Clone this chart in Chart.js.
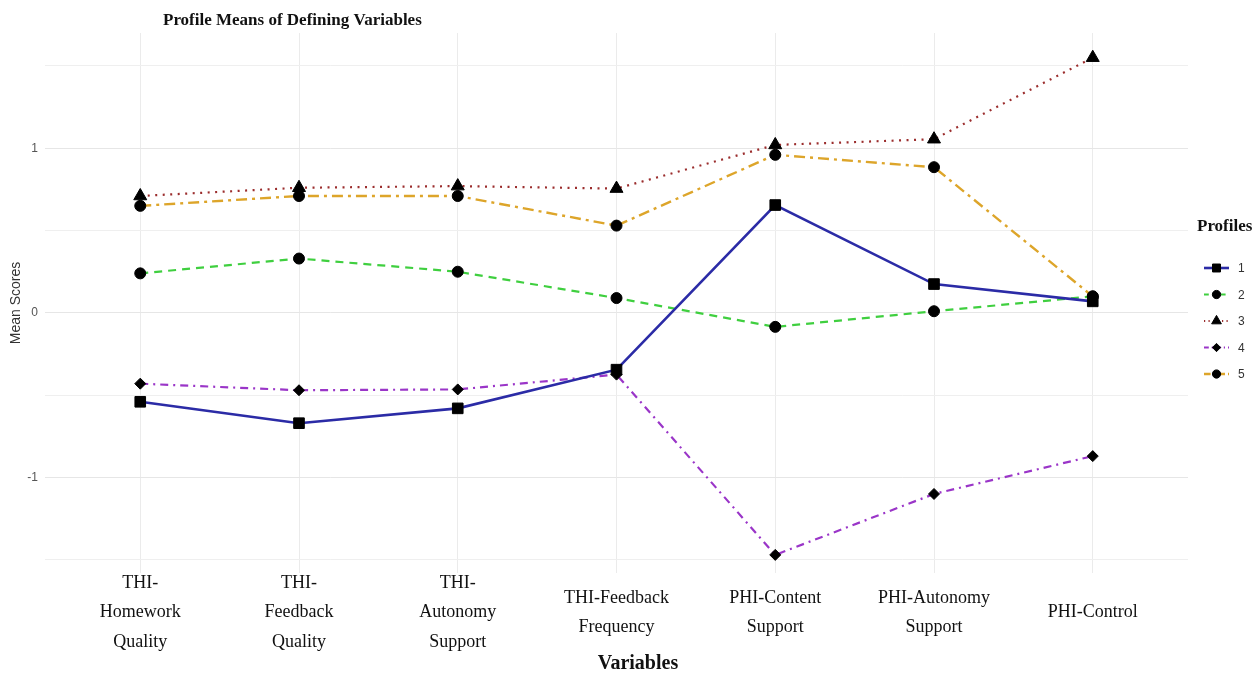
<!DOCTYPE html>
<html>
<head>
<meta charset="utf-8">
<script src="https://cdn.jsdelivr.net/npm/chart.js"></script>
<style>
  html, body { margin: 0; padding: 0; background: #ffffff; }
  #wrap { width: 1260px; height: 675px; }
</style>
</head>
<body>
<div id="wrap"><canvas id="c" width="1260" height="675"></canvas></div>
<script>
// ---- Data ----
const chartTitle = "Profile Means of Defining Variables";
const xAxisTitle = "Variables";
const yAxisTitle = "Mean Scores";
const legendTitle = "Profiles";
const categories = [
  ["THI-", "Homework", "Quality"],
  ["THI-", "Feedback", "Quality"],
  ["THI-", "Autonomy", "Support"],
  ["THI-Feedback", "Frequency"],
  ["PHI-Content", "Support"],
  ["PHI-Autonomy", "Support"],
  ["PHI-Control"]
];
const seriesNames = ["1", "2", "3", "4", "5"];
const profile1 = [-0.54, -0.67, -0.58, -0.345, 0.655, 0.175, 0.07];
const profile2 = [0.24, 0.33, 0.25, 0.09, -0.085, 0.01, 0.10];
const profile3 = [0.71, 0.76, 0.77, 0.755, 1.02, 1.055, 1.55];
const profile4 = [-0.43, -0.47, -0.465, -0.375, -1.47, -1.10, -0.87];
const profile5 = [0.65, 0.71, 0.71, 0.53, 0.96, 0.885, 0.10];
const yTickValues = [-1.5, -1, -0.5, 0, 0.5, 1, 1.5];
const yTickLabels = ["", "-1", "", "0", "", "1", ""];

// ---- Styles ----
const styles = [
  { color: "#2b2ba6", dash: [], width: 2.6, point: "rect", radius: 7.5 },
  { color: "#3fcf3f", dash: [8, 6], width: 2.2, point: "circle", radius: 5.5 },
  { color: "#9b2d2d", dash: [2, 5.5], width: 2.2, point: "triangle", radius: 7.5 },
  { color: "#9a35c8", dash: [8, 5, 2, 5], width: 2.2, point: "rectRot", radius: 5.5 },
  { color: "#dda52a", dash: [11, 5, 3, 5], width: 2.4, point: "circle", radius: 5.5 }
];
const allSeries = [profile1, profile2, profile3, profile4, profile5];

const datasets = allSeries.map((vals, i) => ({
  label: seriesNames[i],
  data: vals.map((v, j) => ({ x: j, y: v })),
  borderColor: styles[i].color,
  borderDash: styles[i].dash,
  borderWidth: styles[i].width,
  pointStyle: styles[i].point,
  pointRadius: styles[i].radius,
  pointHoverRadius: styles[i].radius,
  pointBackgroundColor: "#000000",
  pointBorderColor: "#000000",
  pointBorderWidth: 1,
  tension: 0,
  fill: false
}));

function drawMarker(ctx, style, r, x, y) {
  if (Chart.helpers && Chart.helpers.drawPoint) {
    Chart.helpers.drawPoint(ctx, { pointStyle: style, radius: r, borderWidth: 1, rotation: 0 }, x, y);
    return;
  }
  ctx.beginPath();
  ctx.arc(x, y, r, 0, Math.PI * 2);
  ctx.fill();
}

const decorPlugin = {
  id: "decor",
  afterDraw(chart) {
    const ctx = chart.ctx;
    ctx.save();
    // Title
    ctx.fillStyle = "#111111";
    ctx.font = "bold 17px 'Liberation Serif', 'Times New Roman', serif";
    ctx.textAlign = "left";
    ctx.textBaseline = "middle";
    ctx.fillText(chartTitle, 163, 21);
    // X axis title
    ctx.font = "bold 20px 'Liberation Serif', 'Times New Roman', serif";
    ctx.textAlign = "center";
    ctx.fillText(xAxisTitle, 638, 664);
    // Legend title
    ctx.textAlign = "left";
    ctx.font = "bold 17px 'Liberation Serif', 'Times New Roman', serif";
    ctx.fillText(legendTitle, 1197, 227);
    // Legend items
    chart.data.datasets.forEach((ds, i) => {
      const y = 268 + i * 26.5;
      ctx.save();
      ctx.strokeStyle = ds.borderColor;
      ctx.lineWidth = ds.borderWidth;
      ctx.setLineDash(ds.borderDash.length ? ds.borderDash.map(d => d * 0.6) : []);
      ctx.beginPath();
      ctx.moveTo(1204, y);
      ctx.lineTo(1229, y);
      ctx.stroke();
      ctx.setLineDash([]);
      ctx.fillStyle = "#000000";
      ctx.strokeStyle = "#000000";
      ctx.lineWidth = 1;
      drawMarker(ctx, ds.pointStyle, ds.pointRadius * 0.75, 1216.5, y);
      ctx.restore();
      ctx.fillStyle = "#333333";
      ctx.font = "12px 'Liberation Sans', Arial, sans-serif";
      ctx.textAlign = "left";
      ctx.textBaseline = "middle";
      ctx.fillText(ds.label, 1238, y + 1);
    });
    ctx.restore();
  }
};

new Chart(document.getElementById("c"), {
  type: "line",
  data: { datasets },
  options: {
    responsive: false,
    animation: false,
    events: [],
    layout: { padding: { top: 33, right: 72, left: 0, bottom: 0 } },
    plugins: {
      legend: { display: false },
      title: { display: false },
      tooltip: { enabled: false }
    },
    scales: {
      x: {
        type: "linear",
        min: -0.6,
        max: 6.6,
        afterBuildTicks(scale) { scale.ticks = categories.map((_, i) => ({ value: i })); },
        afterFit(scale) { scale.height = 102; },
        ticks: {
          autoSkip: false,
          maxRotation: 0,
          padding: 10,
          crossAlign: "center",
          color: "#111111",
          font: { family: "'Liberation Serif', 'Times New Roman', serif", size: 18, lineHeight: 1.65 },
          callback: (v) => categories[v]
        },
        grid: { color: "#ebebeb", lineWidth: 1, drawTicks: false, tickLength: 0 },
        border: { display: false },
        title: { display: false }
      },
      y: {
        type: "linear",
        min: -1.58,
        max: 1.70,
        afterBuildTicks(scale) { scale.ticks = yTickValues.map(v => ({ value: v })); },
        afterFit(scale) { scale.width = 45; },
        ticks: {
          padding: 7,
          color: "#555555",
          font: { family: "'Liberation Sans', Arial, sans-serif", size: 12 },
          callback: (v) => { const k = yTickValues.indexOf(v); return k >= 0 ? yTickLabels[k] : ""; }
        },
        grid: {
          color: (c) => (Number.isInteger(c.tick && c.tick.value) ? "#e6e6e6" : "#efefef"),
          lineWidth: 1,
          drawTicks: false,
          tickLength: 0
        },
        border: { display: false },
        title: {
          display: true,
          text: yAxisTitle,
          color: "#333333",
          font: { family: "'Liberation Sans', Arial, sans-serif", size: 14 },
          padding: { top: 8, bottom: 0 }
        }
      }
    }
  },
  plugins: [decorPlugin]
});
</script>
</body>
</html>
